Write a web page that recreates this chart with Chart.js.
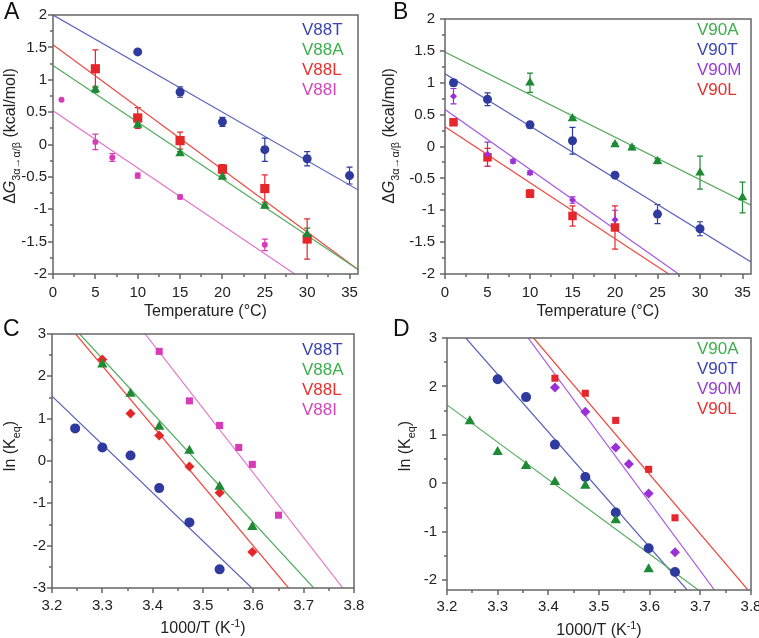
<!DOCTYPE html>
<html>
<head>
<meta charset="utf-8">
<script src="https://cdn.jsdelivr.net/npm/chart.js@4/dist/chart.umd.min.js"></script>
<style>
html, body { margin: 0; padding: 0; background: #fff; overflow: hidden; width: 759px; height: 638px; }
canvas { position: absolute; }
</style>
</head>
<body>
<canvas id="chartA" width="380" height="319" style="left:0;top:0"></canvas>
<canvas id="chartB" width="400" height="319" style="left:380px;top:0"></canvas>
<canvas id="chartC" width="380" height="319" style="left:0;top:319px"></canvas>
<canvas id="chartD" width="400" height="319" style="left:380px;top:319px"></canvas>
<script>
// ---- Panel A: dG vs temperature, V88 mutants ----
const tempA_V88T = [10, 15, 20, 25, 30, 35];
const dgA_V88T = [1.43, 0.81, 0.35, -0.08, -0.22, -0.48];
const errA_V88T = [0, 0.08, 0.07, 0.18, 0.11, 0.13];
const tempA_V88A = [5, 10, 15, 20, 25, 30];
const dgA_V88A = [0.85, 0.30, -0.14, -0.50, -0.95, -1.39];
const errA_V88A = [0.05, 0.03, 0.03, 0.02, 0.03, 0.10];
const tempA_V88L = [5, 10, 15, 20, 25, 30];
const dgA_V88L = [1.17, 0.41, 0.06, -0.38, -0.68, -1.46];
const errA_V88L = [0.29, 0.16, 0.13, 0.07, 0.21, 0.31];
const tempA_V88I = [1, 5, 7, 10, 15, 25];
const dgA_V88I = [0.69, 0.04, -0.20, -0.48, -0.81, -1.55];
const errA_V88I = [0, 0.12, 0.06, 0.04, 0.03, 0.09];
// fit lines, value at T = 0 and T = 36
const fitTemp = [0, 36];
const fitA_V88T = [2.0, -0.7];
const fitA_V88A = [1.22, -1.93];
const fitA_V88L = [1.54, -1.93];
const fitA_V88I = [0.52, -2.66];

// ---- Panel B: dG vs temperature, V90 mutants ----
const tempB_V90A = [10, 15, 20, 22, 25, 30, 35];
const dgB_V90A = [1.0, 0.44, 0.03, -0.02, -0.23, -0.41, -0.80];
const errB_V90A = [0.15, 0.03, 0.02, 0.03, 0.04, 0.26, 0.24];
const tempB_V90T = [1, 5, 10, 15, 20, 25, 30];
const dgB_V90T = [1.0, 0.74, 0.34, 0.09, -0.45, -1.06, -1.29];
const errB_V90T = [0.05, 0.10, 0.05, 0.21, 0.02, 0.15, 0.11];
const tempB_V90M = [1, 5, 8, 10, 15, 20];
const dgB_V90M = [0.79, -0.12, -0.23, -0.41, -0.84, -1.15];
const errB_V90M = [0.12, 0.19, 0.03, 0.03, 0.05, 0.15];
const tempB_V90L = [1, 5, 10, 15, 20];
const dgB_V90L = [0.38, -0.17, -0.74, -1.09, -1.27];
const errB_V90L = [0.02, 0.14, 0.06, 0.16, 0.34];
const fitB_V90A = [1.48, -0.92];
const fitB_V90T = [1.14, -1.81];
const fitB_V90M = [0.58, -2.80];
const fitB_V90L = [0.31, -2.85];

// ---- Panel C: van 't Hoff, V88 mutants ----
const invTC_V88T = [3.246, 3.300, 3.356, 3.413, 3.473, 3.533];
const lnkC_V88T = [0.77, 0.32, 0.13, -0.64, -1.45, -2.56];
const invTC_V88A = [3.300, 3.356, 3.413, 3.473, 3.533, 3.598];
const lnkC_V88A = [2.28, 1.59, 0.81, 0.24, -0.61, -1.56];
const invTC_V88L = [3.300, 3.356, 3.413, 3.473, 3.533, 3.598];
const lnkC_V88L = [2.40, 1.12, 0.60, -0.13, -0.75, -2.15];
const invTC_V88I = [3.413, 3.473, 3.533, 3.571, 3.598, 3.650];
const lnkC_V88I = [2.59, 1.42, 0.84, 0.32, -0.08, -1.28];
const fitXC_V88T = [3.2, 3.597], fitYC_V88T = [1.53, -3];
const fitXC_V88A = [3.255, 3.72], fitYC_V88A = [3, -3];
const fitXC_V88L = [3.247, 3.670], fitYC_V88L = [3, -3];
const fitXC_V88I = [3.385, 3.778], fitYC_V88I = [3, -3];

// ---- Panel D: van 't Hoff, V90 mutants ----
const invTD_V90A = [3.245, 3.300, 3.356, 3.413, 3.473, 3.533, 3.598];
const lnkD_V90A = [1.28, 0.65, 0.36, 0.03, -0.05, -0.76, -1.77];
const invTD_V90T = [3.300, 3.356, 3.413, 3.473, 3.533, 3.598, 3.650];
const lnkD_V90T = [2.15, 1.78, 0.80, 0.13, -0.60, -1.34, -1.83];
const invTD_V90M = [3.413, 3.473, 3.533, 3.559, 3.598, 3.650];
const lnkD_V90M = [1.98, 1.48, 0.74, 0.40, -0.21, -1.42];
const invTD_V90L = [3.413, 3.473, 3.533, 3.598, 3.650];
const lnkD_V90L = [2.17, 1.86, 1.30, 0.29, -0.71];
const fitXD_V90A = [3.2, 3.8], fitYD_V90A = [1.62, -3.0];
const fitXD_V90T = [3.237, 3.674], fitYD_V90T = [3, -2.2];
const fitXD_V90M = [3.36, 3.728], fitYD_V90M = [3, -2.2];
const fitXD_V90L = [3.371, 3.794], fitYD_V90L = [3, -2.2];

const FONT = '"Liberation Sans", Arial, sans-serif';
const AXIS = '#666666';
const C = {
  blue: '#2e3a9e', blueLine: '#5a62bc', blueText: '#3a46b2',
  green: '#1f8a36', greenLine: '#52ac5e', greenText: '#3cb04c',
  red: '#e5262a', redLine: '#ec4a42', redText: '#e8302e',
  mag: '#d63cb8', magLine: '#e474cc', magText: '#d444bc',
  purple: '#9a30d6', purpleLine: '#a656e2', purpleText: '#9a3ad8'
};

// per-panel extras (ticks, legend, titles), looked up by canvas id
const decor = {};

function pts(xs, ys) { return xs.map((x, i) => ({ x: x, y: ys[i] })); }

function markers(xs, ys, errs, style, radius, color) {
  return { data: pts(xs, ys), errors: errs, pointStyle: style, pointRadius: radius,
    backgroundColor: color, borderColor: color, borderWidth: 0, showLine: false, order: 0 };
}

function fitLine(xs, ys, color) {
  return { data: pts(xs, ys), showLine: true, pointRadius: 0, borderColor: color,
    borderWidth: 1.2, fill: false, order: 1 };
}

// text with sub/superscripts, centred on cx
function drawRich(ctx, parts, cx, base, size, rotate, color) {
  const fontOf = p => {
    const small = p[1] === 'sub' || p[1] === 'sup';
    return (p[1] === 'i' ? 'italic ' : '') + (small ? size * 0.68 : size) + 'px ' + FONT;
  };
  let w = 0;
  parts.forEach(p => { ctx.font = fontOf(p); w += ctx.measureText(p[0]).width; });
  ctx.save();
  ctx.fillStyle = color;
  ctx.textBaseline = 'alphabetic';
  ctx.textAlign = 'left';
  if (rotate) { ctx.translate(base, cx); ctx.rotate(-Math.PI / 2); }
  else { ctx.translate(cx, base); }
  let x = -w / 2;
  parts.forEach(p => {
    ctx.font = fontOf(p);
    let dy = 0;
    if (p[1] === 'sub') dy = size * 0.3;
    if (p[1] === 'sup') dy = -size * 0.4;
    ctx.fillText(p[0], x, dy);
    x += ctx.measureText(p[0]).width;
  });
  ctx.restore();
}

const panelDecor = {
  id: 'panelDecor',
  beforeDatasetsDraw(chart) {
    const ctx = chart.ctx, xs = chart.scales.x, ys = chart.scales.y;
    chart.data.datasets.forEach(ds => {
      if (!ds.errors) return;
      ctx.save();
      ctx.strokeStyle = ds.borderColor;
      ctx.lineWidth = 1.2;
      ds.data.forEach((p, j) => {
        const e = ds.errors[j];
        if (!e) return;
        const x = xs.getPixelForValue(p.x);
        const y1 = ys.getPixelForValue(p.y + e), y2 = ys.getPixelForValue(p.y - e);
        ctx.beginPath();
        ctx.moveTo(x, y1); ctx.lineTo(x, y2);
        ctx.moveTo(x - 3, y1); ctx.lineTo(x + 3, y1);
        ctx.moveTo(x - 3, y2); ctx.lineTo(x + 3, y2);
        ctx.stroke();
      });
      ctx.restore();
    });
  },
  afterDatasetsDraw(chart) {
    const o = decor[chart.canvas.id];
    const ctx = chart.ctx, a = chart.chartArea, xs = chart.scales.x, ys = chart.scales.y;
    const L = Math.round(a.left), R = Math.round(a.right);
    const T = Math.round(a.top), B = Math.round(a.bottom);
    ctx.save();
    ctx.strokeStyle = AXIS;
    ctx.lineWidth = 1.5;
    ctx.strokeRect(L, T, R - L, B - T);
    // outward ticks, major and minor
    const isMajor = (v, step) => Math.abs(v / step - Math.round(v / step)) < 1e-6;
    ctx.beginPath();
    for (let i = Math.ceil(xs.min / o.xMinor - 1e-9); i * o.xMinor <= xs.max + 1e-9; i++) {
      const v = i * o.xMinor;
      const px = Math.round(xs.getPixelForValue(v));
      ctx.moveTo(px, B); ctx.lineTo(px, B + (isMajor(v, o.xMajor) ? 5 : 3));
    }
    for (let i = Math.ceil(ys.min / o.yMinor - 1e-9); i * o.yMinor <= ys.max + 1e-9; i++) {
      const v = i * o.yMinor;
      const py = Math.round(ys.getPixelForValue(v));
      ctx.moveTo(L, py); ctx.lineTo(L - (isMajor(v, o.yMajor) ? 5 : 3), py);
    }
    ctx.stroke();
    ctx.restore();
  },
  afterDraw(chart) {
    const o = decor[chart.canvas.id];
    const ctx = chart.ctx, a = chart.chartArea;
    ctx.save();
    ctx.fillStyle = '#111';
    ctx.font = '23px ' + FONT;
    ctx.textBaseline = 'alphabetic';
    ctx.fillText(o.letter, o.letterX, o.letterY);
    // legend as coloured text
    ctx.font = '17px ' + FONT;
    ctx.textBaseline = 'middle';
    o.legend.forEach((l, i) => {
      ctx.fillStyle = l[1];
      ctx.fillText(l[0], o.legendX, o.legendY + i * 20);
    });
    ctx.restore();
    drawRich(ctx, o.xTitle, (a.left + a.right) / 2, o.xTitleY, 16, false, '#222');
    drawRich(ctx, o.yTitle, o.yTitleY, o.yTitleX, 16, true, '#222');
  }
};

function fmt(v) { return String(Number(v.toFixed(2))); }

function makePanel(id, p) {
  decor[id] = p.decor;
  return new Chart(document.getElementById(id), {
    type: 'scatter',
    data: { datasets: p.datasets },
    options: {
      responsive: false,
      animation: false,
      layout: { padding: { top: p.padTop, right: p.padRight, left: 0, bottom: 0 } },
      plugins: { legend: { display: false }, tooltip: { enabled: false } },
      scales: {
        x: {
          type: 'linear', min: p.xMin, max: p.xMax,
          grid: { display: false, drawTicks: false }, border: { display: false },
          ticks: { stepSize: p.decor.xMajor, includeBounds: false, padding: p.xPad, maxRotation: 0,
            autoSkip: false, color: '#222', font: { family: FONT, size: 15 }, callback: fmt },
          afterFit: s => { s.height = p.bottomH; }
        },
        y: {
          type: 'linear', min: p.yMin, max: p.yMax,
          grid: { display: false, drawTicks: false }, border: { display: false },
          ticks: { stepSize: p.decor.yMajor, includeBounds: false, padding: p.yPad,
            autoSkip: false, color: '#222', font: { family: FONT, size: 15 }, callback: fmt },
          afterFit: s => { s.width = p.leftW; }
        }
      }
    },
    plugins: [panelDecor]
  });
}

const dgTitle = [['Δ', 'n'], ['G', 'i'], ['3α→α/β', 'sub'], [' (kcal/mol)', 'n']];
const tTitle = [['Temperature (°C)', 'n']];
const lnTitle = [['ln (K', 'n'], ['eq', 'sub'], [')', 'n']];
const invTitle = [['1000/T (K', 'n'], ['-1', 'sup'], [')', 'n']];

makePanel('chartA', {
  xMin: 0, xMax: 36, yMin: -2, yMax: 2, leftW: 53, bottomH: 45, padTop: 15, padRight: 22, xPad: 10, yPad: 6,
  datasets: [
    markers(tempA_V88T, dgA_V88T, errA_V88T, 'circle', 4.5, C.blue),
    markers(tempA_V88A, dgA_V88A, errA_V88A, 'triangle', 5.5, C.green),
    markers(tempA_V88L, dgA_V88L, errA_V88L, 'rect', 6.5, C.red),
    markers(tempA_V88I, dgA_V88I, errA_V88I, 'circle', 3, C.mag),
    fitLine(fitTemp, fitA_V88T, C.blueLine),
    fitLine(fitTemp, fitA_V88A, C.greenLine),
    fitLine(fitTemp, fitA_V88L, C.redLine),
    fitLine(fitTemp, fitA_V88I, C.magLine)
  ],
  decor: {
    xMajor: 5, xMinor: 2.5, yMajor: 0.5, yMinor: 0.25,
    letter: 'A', letterX: 4, letterY: 19,
    legend: [['V88T', C.blueText], ['V88A', C.greenText], ['V88L', C.redText], ['V88I', C.magText]],
    legendX: 302, legendY: 30,
    xTitle: tTitle, xTitleY: 316, yTitle: dgTitle, yTitleX: 15, yTitleY: 136
  }
});

makePanel('chartB', {
  xMin: 0, xMax: 36, yMin: -2, yMax: 2, leftW: 65, bottomH: 45, padTop: 15, padRight: 29, xPad: 10, yPad: 10,
  datasets: [
    markers(tempB_V90A, dgB_V90A, errB_V90A, 'triangle', 5.5, C.green),
    markers(tempB_V90T, dgB_V90T, errB_V90T, 'circle', 4.5, C.blue),
    markers(tempB_V90M, dgB_V90M, errB_V90M, 'rectRot', 3.5, C.purple),
    markers(tempB_V90L, dgB_V90L, errB_V90L, 'rect', 6, C.red),
    fitLine(fitTemp, fitB_V90A, C.greenLine),
    fitLine(fitTemp, fitB_V90T, C.blueLine),
    fitLine(fitTemp, fitB_V90M, C.purpleLine),
    fitLine(fitTemp, fitB_V90L, C.redLine)
  ],
  decor: {
    xMajor: 5, xMinor: 2.5, yMajor: 0.5, yMinor: 0.25,
    letter: 'B', letterX: 13, letterY: 19,
    legend: [['V90A', C.greenText], ['V90T', C.blueText], ['V90M', C.purpleText], ['V90L', C.redText]],
    legendX: 317, legendY: 30,
    xTitle: tTitle, xTitleY: 316, yTitle: dgTitle, yTitleX: 14, yTitleY: 136
  }
});

makePanel('chartC', {
  xMin: 3.2, xMax: 3.8, yMin: -3, yMax: 3, leftW: 52, bottomH: 50, padTop: 15, padRight: 26, xPad: 9, yPad: 6,
  datasets: [
    markers(invTC_V88T, lnkC_V88T, null, 'circle', 5, C.blue),
    markers(invTC_V88A, lnkC_V88A, null, 'triangle', 6, C.green),
    markers(invTC_V88L, lnkC_V88L, null, 'rectRot', 5, C.red),
    markers(invTC_V88I, lnkC_V88I, null, 'rect', 5, C.mag),
    fitLine(fitXC_V88T, fitYC_V88T, C.blueLine),
    fitLine(fitXC_V88A, fitYC_V88A, C.greenLine),
    fitLine(fitXC_V88L, fitYC_V88L, C.redLine),
    fitLine(fitXC_V88I, fitYC_V88I, C.magLine)
  ],
  decor: {
    xMajor: 0.1, xMinor: 0.05, yMajor: 1, yMinor: 0.5,
    letter: 'C', letterX: 3, letterY: 17,
    legend: [['V88T', C.blueText], ['V88A', C.greenText], ['V88L', C.redText], ['V88I', C.magText]],
    legendX: 302, legendY: 31,
    xTitle: invTitle, xTitleY: 314, yTitle: lnTitle, yTitleX: 15, yTitleY: 127
  }
});

makePanel('chartD', {
  xMin: 3.2, xMax: 3.8, yMin: -2.2, yMax: 3, leftW: 67, bottomH: 48, padTop: 15, padRight: 29, xPad: 8, yPad: 10,
  datasets: [
    markers(invTD_V90A, lnkD_V90A, null, 'triangle', 6, C.green),
    markers(invTD_V90T, lnkD_V90T, null, 'circle', 5, C.blue),
    markers(invTD_V90M, lnkD_V90M, null, 'rectRot', 5, C.purple),
    markers(invTD_V90L, lnkD_V90L, null, 'rect', 5, C.red),
    fitLine(fitXD_V90A, fitYD_V90A, C.greenLine),
    fitLine(fitXD_V90T, fitYD_V90T, C.blueLine),
    fitLine(fitXD_V90M, fitYD_V90M, C.purpleLine),
    fitLine(fitXD_V90L, fitYD_V90L, C.redLine)
  ],
  decor: {
    xMajor: 0.1, xMinor: 0.05, yMajor: 1, yMinor: 0.5,
    letter: 'D', letterX: 13, letterY: 17,
    legend: [['V90A', C.greenText], ['V90T', C.blueText], ['V90M', C.purpleText], ['V90L', C.redText]],
    legendX: 317, legendY: 30,
    xTitle: invTitle, xTitleY: 316, yTitle: lnTitle, yTitleX: 30, yTitleY: 127
  }
});
</script>
</body>
</html>
